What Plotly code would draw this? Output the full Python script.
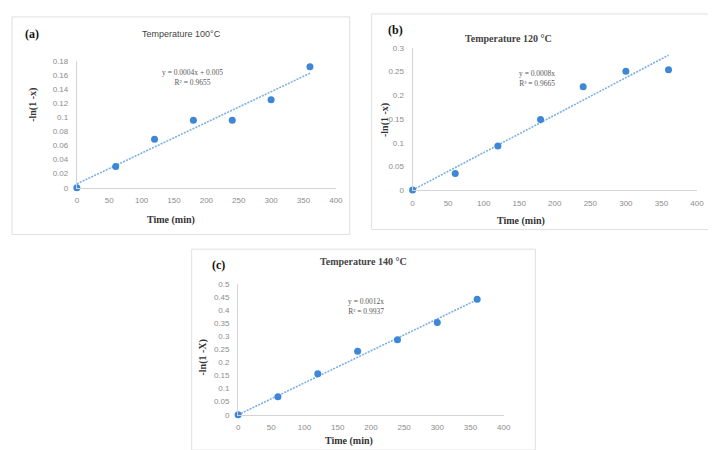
import numpy as np
import plotly.graph_objects as go

W, H = 716, 450

time_min = [0, 60, 120, 180, 240, 300, 360]
y_100 = [0.0, 0.030, 0.069, 0.096, 0.096, 0.125, 0.172]
y_120 = [0.0, 0.035, 0.093, 0.149, 0.218, 0.251, 0.254]
y_140 = [0.0, 0.069, 0.157, 0.242, 0.286, 0.352, 0.441]

x_ticks = [0, 50, 100, 150, 200, 250, 300, 350, 400]
y_ticks_a = [0, 0.02, 0.04, 0.06, 0.08, 0.1, 0.12, 0.14, 0.16, 0.18]
y_ticks_b = [0, 0.05, 0.1, 0.15, 0.2, 0.25, 0.3]
y_ticks_c = [0, 0.05, 0.1, 0.15, 0.2, 0.25, 0.3, 0.35, 0.4, 0.45, 0.5]

titles = ["Temperature 100°C", "Temperature 120 °C", "Temperature 140 °C"]
panel_labels = ["(a)", "(b)", "(c)"]
y_titles = ["-ln(1 -x)", "-ln(1 -x)", "-ln(1 -X)"]
equations = ["y = 0.0004x + 0.005<br>R² = 0.9655", "y = 0.0008x<br>R² = 0.9665", "y = 0.0012x<br>R² = 0.9937"]

def px(x):
    return x / W

def py(y):
    return 1 - y / H

def fmt(v):
    return "%g" % v

MARK = "#3d87d6"
TREND = "#7ab0e3"
AXC = "#d4d4d4"
TICKC = "#8c8c8c"
SERIF = "Liberation Serif"
SANS = "Liberation Sans"

fig = go.Figure()

panels = [
    dict(x=(67.7, 330.0), y=(179.3, 50.0), yr=0.18, yt=y_ticks_a, data=y_100, intercept=True),
    dict(x=(407.7, 695.7), y=(181.7, 36.7), yr=0.3, yt=y_ticks_b, data=y_120, intercept=False),
    dict(x=(231.0, 500.0), y=(411.0, 277.3), yr=0.5, yt=y_ticks_c, data=y_140, intercept=False),
]

for i, p in enumerate(panels):
    n = "" if i == 0 else str(i + 1)
    xa = "x" + n
    ya = "y" + n
    xs = np.array(time_min, dtype=float)
    ys = np.array(p["data"], dtype=float)
    if p["intercept"]:
        m, b = np.polyfit(xs, ys, 1)
    else:
        m, b = float((xs * ys).sum() / (xs * xs).sum()), 0.0
    tx = np.array([xs.min(), xs.max()])
    fig.add_trace(go.Scatter(x=tx, y=m * tx + b, mode="lines",
                             line=dict(color=TREND, width=1.6, dash="2px,1.2px"),
                             xaxis=xa, yaxis=ya, showlegend=False, hoverinfo="skip"))
    fig.add_trace(go.Scatter(x=time_min, y=p["data"], mode="markers",
                             marker=dict(color=MARK, size=7),
                             xaxis=xa, yaxis=ya, showlegend=False, cliponaxis=False))
    fig.layout["xaxis" + n] = dict(
        domain=[px(p["x"][0]), px(p["x"][1])], range=[0, 400], anchor=ya,
        tickvals=x_ticks, ticktext=[fmt(v) for v in x_ticks],
        showgrid=False, zeroline=False, showline=True, linecolor=AXC, linewidth=1,
        ticks="", tickfont=dict(family=SANS, size=8, color=TICKC), ticklabelstandoff=5,
        fixedrange=True)
    fig.layout["yaxis" + n] = dict(
        domain=[py(p["y"][0]), py(p["y"][1])], range=[0, p["yr"]], anchor=xa,
        tickvals=p["yt"], ticktext=[fmt(v) for v in p["yt"]],
        showgrid=False, zeroline=False, showline=True, linecolor=AXC, linewidth=1,
        ticks="", tickfont=dict(family=SANS, size=8, color=TICKC), ticklabelstandoff=6,
        fixedrange=True)

ann = []
def add_text(text, x, y, size, family, color="#222", bold=False, angle=0, xanchor="center"):
    t = "<b>%s</b>" % text if bold else text
    ann.append(dict(text=t, x=px(x), y=py(y), xref="paper", yref="paper",
                    showarrow=False, xanchor=xanchor, yanchor="middle",
                    font=dict(size=size, family=family, color=color), textangle=angle))

add_text(panel_labels[0], 22, 22, 12, SERIF, "#111", True)
add_text(panel_labels[1], 390, 18, 12, SERIF, "#111", True)
add_text(panel_labels[2], 211, 258, 12, SERIF, "#111", True)
add_text(titles[0], 174, 22, 9, SANS, "#444")
add_text(titles[1], 505, 27, 10, SERIF, "#444", True)
add_text(titles[2], 358, 255, 10, SERIF, "#444", True)
add_text("Time (min)", 163, 212, 10, SERIF, "#333", True)
add_text("Time (min)", 518, 213, 10, SERIF, "#333", True)
add_text("Time (min)", 343, 438, 10, SERIF, "#333", True)
add_text(y_titles[0], 23, 95, 10, SERIF, "#333", True, -90)
add_text(y_titles[1], 380, 110, 10, SERIF, "#333", True, -90)
add_text(y_titles[2], 195, 353, 10, SERIF, "#333", True, -90)
add_text(equations[0], 185, 67, 7.5, SERIF, "#5a5a5a")
add_text(equations[1], 534, 68, 7.5, SERIF, "#5a5a5a")
add_text(equations[2], 361, 300, 7.5, SERIF, "#5a5a5a")

shapes = []
for (x0, y0, x1, y1) in [(2, 5, 344, 227), (366, 2, 713, 222), (184, 242, 532, 447)]:
    shapes.append(dict(type="rect", xref="paper", yref="paper",
                       x0=px(x0), x1=px(x1), y0=py(y1), y1=py(y0),
                       line=dict(color="#e0e0e0", width=1), layer="below"))

fig.update_layout(width=W, height=H, margin=dict(l=0, r=0, t=0, b=0),
                  paper_bgcolor="white", plot_bgcolor="white",
                  annotations=ann, shapes=shapes, showlegend=False)

fig.write_html("out.html", config=dict(displayModeBar=False))
